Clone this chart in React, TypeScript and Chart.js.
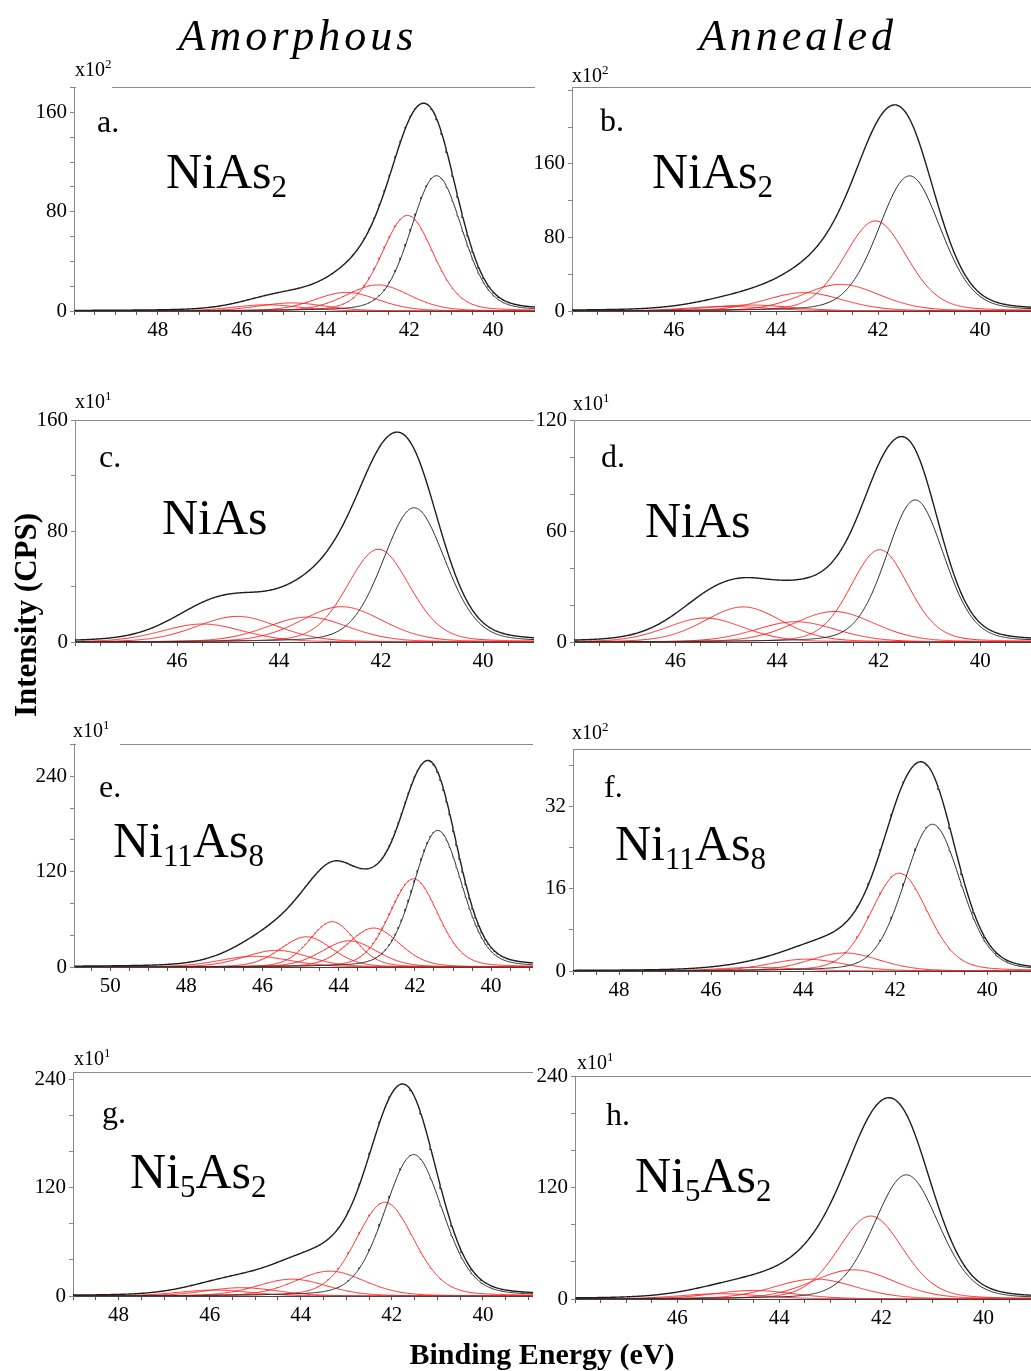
import React, { useEffect, useRef } from "react";
import { Chart, registerables } from "chart.js";
Chart.register(...registerables);

// ---------- fitted components (binding energy eV, height, FWHM eV); first one black, rest red ----------
const aCenters = [41.35, 42.04, 42.75, 43.5, 44.8, 45.4];
const aHeights = [109, 77, 21, 15, 6.5, 5];
const aWidths = [1.45, 1.45, 1.8, 1.8, 1.9, 1.9];

const bCenters = [41.38, 42.05, 42.73, 43.45, 44.5, 44.95];
const bHeights = [147, 98, 29, 20, 6.5, 5];
const bWidths = [1.45, 1.45, 1.8, 1.8, 1.9, 1.9];

const cCenters = [41.35, 42.05, 42.77, 43.44, 44.82, 45.5];
const cHeights = [97, 67, 25.5, 18, 18.5, 13];
const cWidths = [1.45, 1.45, 1.9, 1.9, 1.9, 1.9];

const dCenters = [41.28, 41.98, 42.88, 43.63, 44.67, 45.42];
const dHeights = [77, 50, 16.5, 11, 19, 13];
const dWidths = [1.35, 1.35, 1.9, 1.9, 1.8, 1.8];

const eCenters = [41.4, 42.03, 43.08, 43.72, 44.17, 44.85, 45.63, 46.2];
const eHeights = [172, 111, 49, 33, 57, 38, 21, 13.5];
const eWidths = [1.5, 1.5, 1.6, 1.7, 1.4, 1.6, 2.0, 2.2];

const fCenters = [41.19, 41.91, 43.1, 43.93, 45.0];
const fHeights = [28.5, 19, 3.5, 2.3, 0.7];
const fWidths = [1.45, 1.45, 1.8, 1.9, 2.0];

const gCenters = [41.52, 42.15, 43.36, 44.19, 45.3, 45.9];
const gHeights = [157, 104, 27.6, 18.7, 9.2, 6.6];
const gWidths = [1.5, 1.5, 1.8, 1.8, 1.9, 1.9];

const hCenters = [41.51, 42.21, 42.55, 43.3, 44.5, 45.15];
const hHeights = [134, 89.5, 31.5, 21.5, 9.2, 5.7];
const hWidths = [1.5, 1.5, 1.9, 1.9, 1.9, 1.9];

// ---------- tick labels ----------
const aXLabels = [48, 46, 44, 42, 40];
const bXLabels = [46, 44, 42, 40];
const cXLabels = [46, 44, 42, 40];
const dXLabels = [46, 44, 42, 40];
const eXLabels = [50, 48, 46, 44, 42, 40];
const fXLabels = [48, 46, 44, 42, 40];
const gXLabels = [48, 46, 44, 42, 40];
const hXLabels = [46, 44, 42, 40];

const aYLabels = [0, 80, 160];
const bYLabels = [0, 80, 160];
const cYLabels = [0, 80, 160];
const dYLabels = [0, 60, 120];
const eYLabels = [0, 120, 240];
const fYLabels = [0, 16, 32];
const gYLabels = [0, 120, 240];
const hYLabels = [0, 120, 240];

const ETA = 0.2; // Lorentzian fraction of pseudo-Voigt line shape

type P = {
  key: string;
  x0: number; y0: number; x1: number; y1: number;
  xMin: number; xMax: number; yMax: number; yStep: number;
  xLabels: number[]; yLabels: number[];
  centers: number[]; heights: number[]; widths: number[];
  rightBorder: boolean;
};

const panels: P[] = [
  { key: "a", x0: 74, y0: 86, x1: 535, y1: 311, xMin: 39, xMax: 50, yMax: 180, yStep: 20, xLabels: aXLabels, yLabels: aYLabels, centers: aCenters, heights: aHeights, widths: aWidths, rightBorder: false },
  { key: "b", x0: 572, y0: 86, x1: 1031, y1: 311, xMin: 39, xMax: 48, yMax: 243, yStep: 40, xLabels: bXLabels, yLabels: bYLabels, centers: bCenters, heights: bHeights, widths: bWidths, rightBorder: false },
  { key: "c", x0: 75, y0: 419, x1: 534, y1: 642, xMin: 39, xMax: 48, yMax: 160, yStep: 40, xLabels: cXLabels, yLabels: cYLabels, centers: cCenters, heights: cHeights, widths: cWidths, rightBorder: true },
  { key: "d", x0: 574, y0: 419, x1: 1031, y1: 642, xMin: 39, xMax: 48, yMax: 120, yStep: 20, xLabels: dXLabels, yLabels: dYLabels, centers: dCenters, heights: dHeights, widths: dWidths, rightBorder: false },
  { key: "e", x0: 74, y0: 743, x1: 533, y1: 967, xMin: 38.9, xMax: 50.95, yMax: 280, yStep: 40, xLabels: eXLabels, yLabels: eYLabels, centers: eCenters, heights: eHeights, widths: eWidths, rightBorder: true },
  { key: "f", x0: 573, y0: 748, x1: 1031, y1: 971, xMin: 39.05, xMax: 49, yMax: 43, yStep: 8, xLabels: fXLabels, yLabels: fYLabels, centers: fCenters, heights: fHeights, widths: fWidths, rightBorder: false },
  { key: "g", x0: 73, y0: 1071, x1: 533, y1: 1296, xMin: 38.9, xMax: 49, yMax: 248, yStep: 40, xLabels: gXLabels, yLabels: gYLabels, centers: gCenters, heights: gHeights, widths: gWidths, rightBorder: true },
  { key: "h", x0: 575, y0: 1075, x1: 1031, y1: 1299, xMin: 39.07, xMax: 48, yMax: 240, yStep: 40, xLabels: hXLabels, yLabels: hYLabels, centers: hCenters, heights: hHeights, widths: hWidths, rightBorder: false },
];

const FONT = "'Liberation Serif', 'Times New Roman', serif";
const LEFT = 50, TOP = 14, BOTTOM = 34;

function pv(x: number, c: number, h: number, w: number) {
  const d = x - c;
  const g = Math.exp((-4 * Math.LN2 * d * d) / (w * w));
  const l = 1 / (1 + (4 * d * d) / (w * w));
  return h * ((1 - ETA) * g + ETA * l);
}

const near = (arr: number[], v: number) => arr.some((a) => Math.abs(a - v) < 1e-6);

function Panel({ p }: { p: P }) {
  const ref = useRef<HTMLCanvasElement>(null);
  const W = p.x1 - p.x0 + LEFT;
  const H = p.y1 - p.y0 + TOP + BOTTOM;
  useEffect(() => {
    const xs: number[] = [];
    for (let x = p.xMin; x <= p.xMax + 1e-9; x += 0.02) xs.push(x);
    const comps = p.centers.map((c, i) => xs.map((x) => ({ x, y: pv(x, c, p.heights[i], p.widths[i]) })));
    const env = xs.map((x, k) => ({ x, y: comps.reduce((s, cp) => s + cp[k].y, 0) }));
    const datasets: any[] = [
      { data: env, borderColor: "#1e1e1e", borderWidth: 1.4 },
      { data: comps[0], borderColor: "#2a2a2a", borderWidth: 1 },
      ...comps.slice(1).map((d) => ({ data: d, borderColor: "rgba(255,20,20,0.9)", borderWidth: 1 })),
    ];
    const xTicks: number[] = [];
    for (let v = Math.ceil(p.xMin * 2) / 2; v <= p.xMax + 1e-9; v += 0.5) xTicks.push(Math.round(v * 10) / 10);
    const yTicks: number[] = [];
    for (let v = 0; v <= p.yMax + 1e-9; v += p.yStep) yTicks.push(v);
    const tickFont = { family: FONT, size: 21 };
    const chart = new Chart(ref.current!, {
      type: "line",
      data: { datasets },
      options: {
        responsive: false,
        animation: false,
        events: [],
        parsing: false,
        normalized: true,
        layout: { padding: { top: TOP, left: 0, right: 0, bottom: 0 }, autoPadding: false },
        plugins: { legend: { display: false }, tooltip: { enabled: false } },
        elements: { point: { radius: 0 }, line: { tension: 0 } },
        scales: {
          x: {
            type: "linear", reverse: true, min: p.xMin, max: p.xMax, position: "bottom",
            afterFit: (s: any) => { s.height = BOTTOM; },
            afterBuildTicks: (s: any) => { s.ticks = xTicks.map((v) => ({ value: v })); },
            ticks: {
              autoSkip: false, maxRotation: 0, padding: 3, color: "#000", font: tickFont,
              callback: (v: any) => (near(p.xLabels, Number(v)) ? String(Math.round(Number(v))) : ""),
            },
            grid: { display: true, drawOnChartArea: false, drawTicks: true, tickLength: 4, color: "#555" },
            border: { display: true, color: "#444", width: 1 },
          },
          xTop: {
            type: "linear", reverse: true, min: p.xMin, max: p.xMax, position: "top",
            afterFit: (s: any) => { s.height = 0; },
            ticks: { display: false }, grid: { display: false },
            border: { display: true, color: "#8a8a8a", width: 1 },
          },
          y: {
            type: "linear", min: 0, max: p.yMax, position: "left",
            afterFit: (s: any) => { s.width = LEFT; },
            afterBuildTicks: (s: any) => { s.ticks = yTicks.map((v) => ({ value: v })); },
            ticks: {
              autoSkip: false, padding: 3, color: "#000", font: tickFont,
              callback: (v: any) => (near(p.yLabels, Number(v)) ? String(v) : ""),
            },
            grid: { display: true, drawOnChartArea: false, drawTicks: true, tickLength: 4, color: "#888" },
            border: { display: true, color: "#8a8a8a", width: 1 },
          },
          yRight: {
            display: p.rightBorder, type: "linear", min: 0, max: p.yMax, position: "right",
            afterFit: (s: any) => { s.width = 0; },
            ticks: { display: false }, grid: { display: false },
            border: { display: true, color: "#8a8a8a", width: 1 },
          },
        },
      } as any,
    });
    return () => chart.destroy();
  }, []);
  return (
    <canvas
      ref={ref}
      width={W}
      height={H}
      style={{ position: "absolute", left: p.x0 - LEFT, top: p.y0 - TOP, width: W, height: H, zIndex: 1 }}
    />
  );
}

// ---------- annotation texts ----------
const letterPos = [
  { t: "a.", x: 97, y: 132 },
  { t: "b.", x: 600, y: 131 },
  { t: "c.", x: 99, y: 467 },
  { t: "d.", x: 601, y: 467 },
  { t: "e.", x: 99, y: 797 },
  { t: "f.", x: 604, y: 797 },
  { t: "g.", x: 102, y: 1123 },
  { t: "h.", x: 606, y: 1125 },
];
const scalePos = [
  { e: "2", x: 75, y: 76 },
  { e: "2", x: 572, y: 82 },
  { e: "1", x: 75, y: 408 },
  { e: "1", x: 573, y: 410 },
  { e: "1", x: 73, y: 737 },
  { e: "2", x: 572, y: 739 },
  { e: "1", x: 74, y: 1065 },
  { e: "1", x: 577, y: 1069 },
];
const masks = [
  { x: 76, y: 80, w: 36 },
  { x: 76, y: 412, w: 41 },
  { x: 576, y: 412, w: 42 },
  { x: 76, y: 737, w: 44 },
];

function Compound({ x, y, parts }: { x: number; y: number; parts: [string, string][] }) {
  let level = 0;
  return (
    <text x={x} y={y} fontSize={50} fontFamily={FONT} fill="#000">
      {parts.map(([main, sub], i) => {
        const dyMain = level === 0 ? 0 : -9;
        level = 0;
        const nodes = [
          <tspan key={i + "m"} dy={dyMain} fontSize={50}>{main}</tspan>,
        ];
        if (sub) {
          nodes.push(<tspan key={i + "s"} dy={9} fontSize={31}>{sub}</tspan>);
          level = 1;
        }
        return nodes;
      })}
    </text>
  );
}

export default function App() {
  return (
    <div style={{ position: "absolute", left: 0, top: 0, width: 1031, height: 1371, overflow: "hidden", background: "#fff" }}>
      {panels.map((p) => (
        <Panel key={p.key} p={p} />
      ))}
      <svg width={1031} height={1371} style={{ position: "absolute", left: 0, top: 0, zIndex: 2, pointerEvents: "none" }}>
        {masks.map((m, i) => (
          <rect key={i} x={m.x} y={m.y} width={m.w} height={8} fill="#fff" />
        ))}
        <text x={298} y={50} textAnchor="middle" fontSize={44} fontStyle="italic" fontFamily={FONT} letterSpacing={4}>Amorphous</text>
        <text x={798} y={50} textAnchor="middle" fontSize={44} fontStyle="italic" fontFamily={FONT} letterSpacing={4}>Annealed</text>
        <text transform="translate(36,615) rotate(-90)" textAnchor="middle" fontSize={31} fontWeight="bold" fontFamily={FONT}>Intensity (CPS)</text>
        <text x={542} y={1364} textAnchor="middle" fontSize={30} fontWeight="bold" fontFamily={FONT}>Binding Energy (eV)</text>
        {letterPos.map((l) => (
          <text key={l.t} x={l.x} y={l.y} fontSize={32} fontFamily={FONT}>{l.t}</text>
        ))}
        {scalePos.map((s, i) => (
          <text key={i} x={s.x} y={s.y} fontSize={20} fontFamily={FONT}>
            x10<tspan dy={-8} fontSize={13}>{s.e}</tspan>
          </text>
        ))}
        <Compound x={166} y={188} parts={[["NiAs", "2"]]} />
        <Compound x={652} y={188} parts={[["NiAs", "2"]]} />
        <Compound x={162} y={534} parts={[["NiAs", ""]]} />
        <Compound x={645} y={537} parts={[["NiAs", ""]]} />
        <Compound x={113} y={857} parts={[["Ni", "11"], ["As", "8"]]} />
        <Compound x={615} y={860} parts={[["Ni", "11"], ["As", "8"]]} />
        <Compound x={130} y={1188} parts={[["Ni", "5"], ["As", "2"]]} />
        <Compound x={635} y={1192} parts={[["Ni", "5"], ["As", "2"]]} />
      </svg>
    </div>
  );
}
